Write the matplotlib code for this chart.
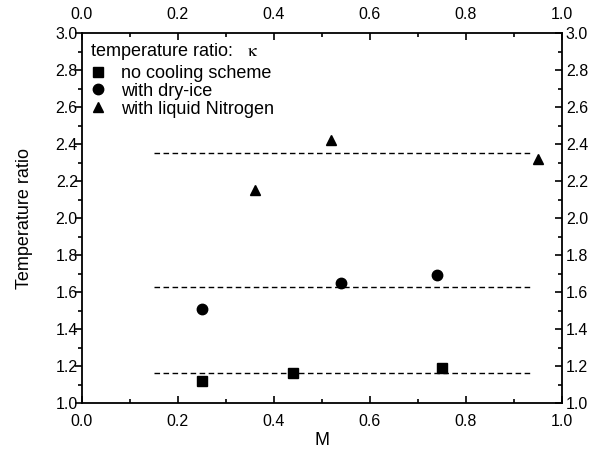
import matplotlib
matplotlib.use('Agg')
import matplotlib.pyplot as plt
from matplotlib.ticker import MultipleLocator

plt.rcParams['font.family'] = ['Liberation Sans', 'DejaVu Sans']
plt.rcParams['mathtext.fontset'] = 'stix'

# --- data ---
m_none = [0.25, 0.44, 0.75]
k_none = [1.12, 1.16, 1.19]
m_dry = [0.25, 0.54, 0.74]
k_dry = [1.51, 1.65, 1.69]
m_ln2 = [0.36, 0.52, 0.95]
k_ln2 = [2.15, 2.42, 2.32]

fit_range = [0.15, 0.935]
fit_levels = [1.16, 1.625, 2.35]

labels = ["no cooling scheme", "with dry-ice", "with liquid Nitrogen"]

fig = plt.figure(figsize=(6.05, 4.54), dpi=100)
ax = fig.add_axes([0.1355, 0.1123, 0.793, 0.815])

ax.plot(m_none, k_none, 's', color='black', ms=7, label=labels[0])
ax.plot(m_dry, k_dry, 'o', color='black', ms=7.5, label=labels[1])
ax.plot(m_ln2, k_ln2, '^', color='black', ms=7.5, label=labels[2])

for lvl in fit_levels:
    ax.plot(fit_range, [lvl, lvl], '--', color='black', lw=1, dashes=(4, 2.5))

ax.set_xlim(0.0, 1.0)
ax.set_ylim(1.0, 3.0)
ax.xaxis.set_major_locator(MultipleLocator(0.2))
ax.xaxis.set_minor_locator(MultipleLocator(0.1))
ax.yaxis.set_major_locator(MultipleLocator(0.2))
ax.yaxis.set_minor_locator(MultipleLocator(0.1))
ax.xaxis.set_major_formatter(plt.FuncFormatter(lambda v, p: f"{v:.1f}"))
ax.yaxis.set_major_formatter(plt.FuncFormatter(lambda v, p: f"{v:.1f}"))

ax.tick_params(which='both', direction='in', top=True, right=True,
               labeltop=True, labelright=True, labelsize=11.5, width=1.2)
ax.tick_params(which='major', length=5)
ax.tick_params(which='minor', length=3)
ax.tick_params(axis='x', which='major', pad=8)
ax.tick_params(axis='y', which='major', pad=3)
for s in ax.spines.values():
    s.set_linewidth(1.3)

# left-axis ticks point outward, others inward
for t in ax.yaxis.get_major_ticks() + ax.yaxis.get_minor_ticks():
    t.tick1line.set_marker(matplotlib.lines.TICKLEFT)
    t.tick2line.set_marker(matplotlib.lines.TICKLEFT)

ax.set_xlabel("M", fontsize=13, labelpad=2)
ax.set_ylabel("Temperature ratio", fontsize=13, labelpad=16)

leg = ax.legend(title="temperature ratio:   $\\mathrm{\\kappa}$", loc='upper left',
                frameon=False, fontsize=13, title_fontsize=13, handletextpad=0.8,
                borderaxespad=0.1, labelspacing=0.05, handlelength=0.9,
                borderpad=0.35, bbox_to_anchor=(0.0, 1.0))
leg._legend_box.align = "left"
leg._legend_box.sep = 2

fig.savefig("out.png", dpi=100)
